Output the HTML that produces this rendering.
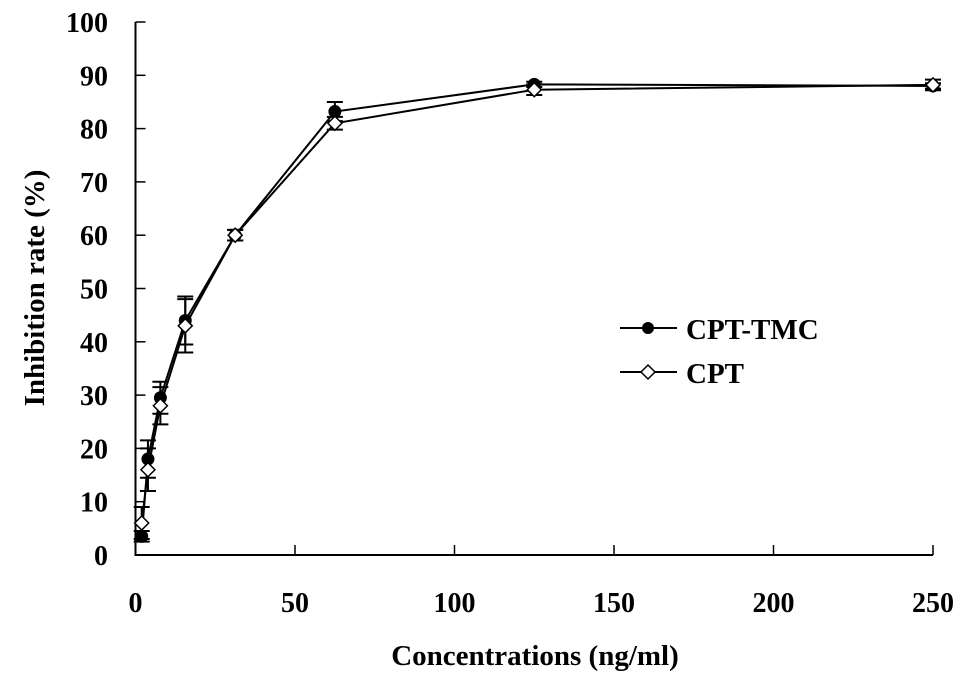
<!DOCTYPE html>
<html><head><meta charset="utf-8"><style>
body{margin:0;background:#fff}
svg{display:block;font-family:"Liberation Serif",serif;font-weight:bold}
</style></head><body>
<svg id="chart" width="969" height="683" viewBox="0 0 969 683">
<g id="axes"></g><g id="marks"></g>
<g>
<line x1="620" y1="328" x2="677" y2="328" stroke="#000" stroke-width="2"/>
<circle cx="648" cy="328" r="6" fill="#000"/>
<text x="686" y="339" font-size="29">CPT-TMC</text>
<line x1="620" y1="372" x2="677" y2="372" stroke="#000" stroke-width="2"/>
<path d="M648 365 L655 372 L648 379 L641 372 Z" fill="#fff" stroke="#000" stroke-width="1.5"/>
<text x="686" y="383" font-size="29">CPT</text>
</g>
<text x="535" y="665" font-size="29" text-anchor="middle">Concentrations (ng/ml)</text>
<text transform="translate(44,288) rotate(-90)" font-size="29" text-anchor="middle">Inhibition rate (%)</text>
</svg>
<script>
const concentrations=[1.95,3.9,7.8,15.6,31.25,62.5,125,250];
const cptTmc=[3.5,18,29.5,44,60,83.2,88.3,88];
const cptTmcErr=[1,3.5,3,4.5,1,1.8,0.5,0.5];
const cpt=[6,16,28,43,60,81,87.3,88.2];
const cptErr=[3,4,3.5,5,1,1.2,1,1];
const xTicks=[0,50,100,150,200,250];
const yTicks=[0,10,20,30,40,50,60,70,80,90,100];
const X=v=>135.5+v*(933-135.5)/250;
const Y=v=>555-v*(555-22)/100;
const NS="http://www.w3.org/2000/svg";
const axes=document.getElementById('axes'),marks=document.getElementById('marks');
function mk(p,tag,at){const e=document.createElementNS(NS,tag);for(const k in at)e.setAttribute(k,at[k]);p.appendChild(e);return e;}
let a=mk(axes,'path',{d:`M${X(0)} ${Y(100)} V${Y(0)} H${X(250)}`,fill:'none',stroke:'#000','stroke-width':2});


yTicks.forEach(t=>{
 const l=mk(axes,'line',{x1:X(0),x2:X(0)+10,y1:Y(t),y2:Y(t),stroke:'#000','stroke-width':1.5});
 
 
 const tx=mk(axes,'text',{x:108,y:Y(t)+10,'font-size':28,'text-anchor':'end'});tx.textContent=t;
 
 
});
xTicks.forEach(t=>{
 const l=mk(axes,'line',{x1:X(t),x2:X(t),y1:Y(0),y2:Y(0)-10,stroke:'#000','stroke-width':1.5});
 
 
 const tx=mk(axes,'text',{x:X(t),y:612,'font-size':28,'text-anchor':'middle'});tx.textContent=t;
 
 
});
function series(vals,errs,name,filled){
 const g=mk(marks,'g',{});
 
 
 const ln=mk(g,'polyline',{points:vals.map((v,i)=>X(concentrations[i])+','+Y(v)).join(' '),fill:'none',stroke:'#000','stroke-width':2});
 
 
 vals.forEach((v,i)=>{
  const x=X(concentrations[i]),y1=Y(v+errs[i]),y2=Y(v-errs[i]);
  const e=mk(g,'path',{d:`M${x} ${y1} V${y2} M${x-8} ${y1} H${x+8} M${x-8} ${y2} H${x+8}`,stroke:'#000','stroke-width':2,fill:'none'});
  
  
  let p;
  if(filled)p=mk(g,'circle',{cx:x,cy:Y(v),r:6.5,fill:'#000'});
  else{const y=Y(v);p=mk(g,'path',{d:`M${x} ${y-7} L${x+7} ${y} L${x} ${y+7} L${x-7} ${y} Z`,fill:'#fff',stroke:'#000','stroke-width':1.5});}
  
  
 });
}
series(cptTmc,cptTmcErr,'cpt-tmc',true);
series(cpt,cptErr,'cpt',false);
</script>
</body></html>
